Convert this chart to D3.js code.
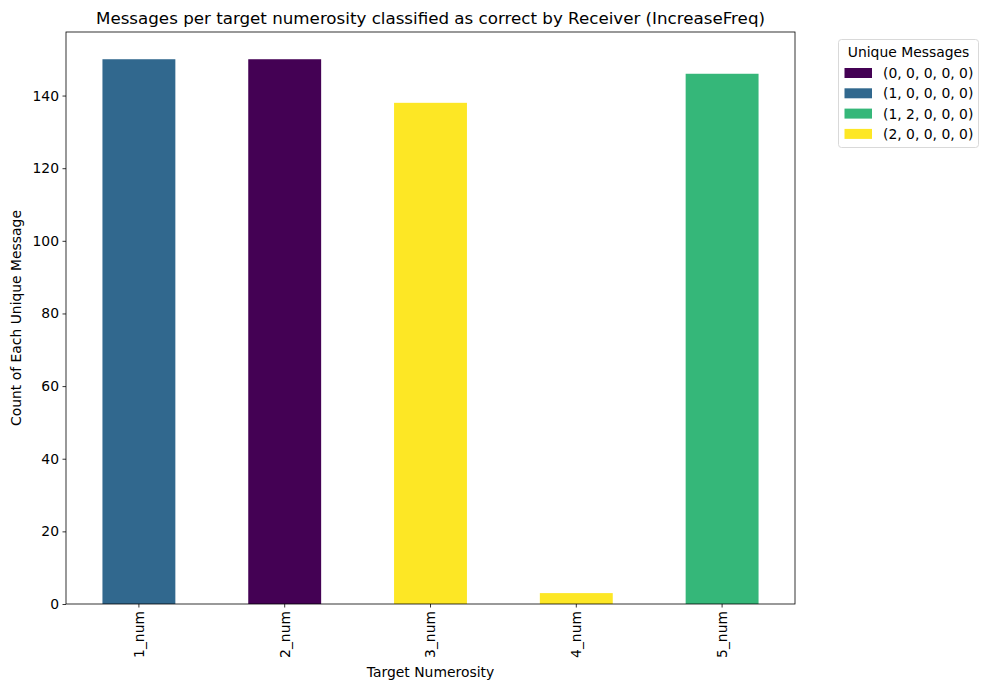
<!DOCTYPE html>
<html><head><meta charset="utf-8">
<script src="https://cdn.jsdelivr.net/npm/d3@7"></script>
<style>body{margin:0;background:#fff}svg{display:block;font-family:"DejaVu Sans",sans-serif}</style>
</head><body>
<svg id="c" width="987" height="690"></svg>
<script>
const categories = ["1_num","2_num","3_num","4_num","5_num"];
const values = [150,150,138,3,146];
const barSeries = ["(1, 0, 0, 0, 0)","(0, 0, 0, 0, 0)","(2, 0, 0, 0, 0)","(2, 0, 0, 0, 0)","(1, 2, 0, 0, 0)"];
const legendLabels = ["(0, 0, 0, 0, 0)","(1, 0, 0, 0, 0)","(1, 2, 0, 0, 0)","(2, 0, 0, 0, 0)"];
const legendColors = ["#440154","#31688e","#35b779","#fde725"];
const yTicks = [0,20,40,60,80,100,120,140];

const svg = d3.select("#c");
const L=66,R=795,T=32,B=604;
const x = d3.scaleBand().domain(categories).range([L,R]).paddingInner(0.5).paddingOuter(0.25);
const y = d3.scaleLinear().domain([0,157.5]).range([B,T]);
const color = d3.scaleOrdinal().domain(legendLabels).range(legendColors);

svg.selectAll("rect.bar").data(categories).enter().append("rect")
  .attr("x",d=>x(d)).attr("width",x.bandwidth())
  .attr("y",(d,i)=>y(values[i])).attr("height",(d,i)=>B-y(values[i]))
  .attr("fill",(d,i)=>color(barSeries[i]));

const ya = svg.append("g").attr("transform",`translate(${L},0)`).call(d3.axisLeft(y).tickValues(yTicks).tickSize(3.5).tickPadding(3.5));
const xa = svg.append("g").attr("transform",`translate(0,${B})`).call(d3.axisBottom(x).tickSize(3.5).tickPadding(3.5));
[ya,xa].forEach(a=>{a.select(".domain").remove();a.selectAll("text").attr("font-size",13.9).attr("font-family","DejaVu Sans").attr("fill","#000");a.selectAll("line").attr("stroke","#000").attr("stroke-width",0.8);});
xa.selectAll("text").attr("transform","rotate(-90)").attr("text-anchor","end").attr("dy","0.35em").attr("x",-7).attr("y",0);

svg.append("rect").attr("x",L).attr("y",T).attr("width",R-L).attr("height",B-T).attr("fill","none").attr("stroke","#000").attr("stroke-width",0.8);

svg.append("text").attr("x",(L+R)/2).attr("y",24).attr("text-anchor","middle").attr("font-size",16.7).text("Messages per target numerosity classified as correct by Receiver (IncreaseFreq)");
svg.append("text").attr("x",(L+R)/2).attr("y",677).attr("text-anchor","middle").attr("font-size",13.9).text("Target Numerosity");
svg.append("text").attr("transform",`translate(21,${(T+B)/2}) rotate(-90)`).attr("text-anchor","middle").attr("font-size",13.9).text("Count of Each Unique Message");

const lg = svg.append("g");
lg.append("rect").attr("x",838.5).attr("y",39.5).attr("width",140).attr("height",108).attr("rx",3).attr("fill","#fff").attr("stroke","#d9d9d9").attr("stroke-width",1);
lg.append("text").attr("x",908.5).attr("y",56.5).attr("text-anchor","middle").attr("font-size",13.9).text("Unique Messages");
legendLabels.forEach((l,i)=>{
  const cy = 73 + i*20.3;
  lg.append("rect").attr("x",844.5).attr("y",cy-5).attr("width",27.5).attr("height",10).attr("fill",color(l));
  lg.append("text").attr("x",883).attr("y",cy).attr("dy","0.36em").attr("font-size",13.9).text(l);
});
</script>
</body></html>
